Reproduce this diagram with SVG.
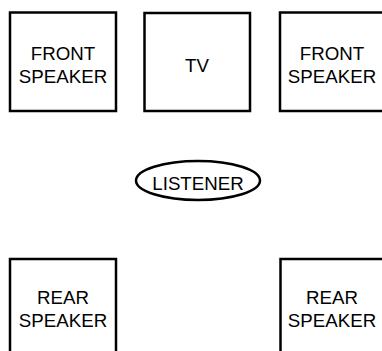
<svg xmlns="http://www.w3.org/2000/svg" width="382" height="351" viewBox="0 0 382 351">
<style>
.box{fill:#fff;stroke:#000;stroke-width:2.5}
.lbl{font-family:"Liberation Sans",Arial,sans-serif;font-size:18.7px;fill:#000;text-anchor:middle}
</style>
<rect width="382" height="351" fill="#fff"/>
<g id="connectors"></g>
<g id="front-left">
<rect class="box" x="10" y="12.5" width="106" height="98.5"/>
<text class="lbl" x="63" y="60">FRONT</text>
<text class="lbl" x="63" y="83">SPEAKER</text>
</g>
<g id="tv">
<rect class="box" x="144.5" y="13" width="105.5" height="98"/>
<text class="lbl" x="197" y="72">TV</text>
</g>
<g id="front-right">
<rect class="box" x="280" y="12.5" width="106" height="98.5"/>
<text class="lbl" x="332" y="60">FRONT</text>
<text class="lbl" x="332" y="83">SPEAKER</text>
</g>
<g id="listener">
<ellipse class="box" cx="198" cy="180.5" rx="62" ry="19.5"/>
<text class="lbl" x="198" y="190">LISTENER</text>
</g>
<g id="rear-left">
<rect class="box" x="10" y="259" width="106" height="100"/>
<text class="lbl" x="63" y="304">REAR</text>
<text class="lbl" x="63" y="327">SPEAKER</text>
</g>
<g id="rear-right">
<rect class="box" x="280.5" y="259" width="106" height="100"/>
<text class="lbl" x="332" y="304">REAR</text>
<text class="lbl" x="332" y="327">SPEAKER</text>
</g>
</svg>
